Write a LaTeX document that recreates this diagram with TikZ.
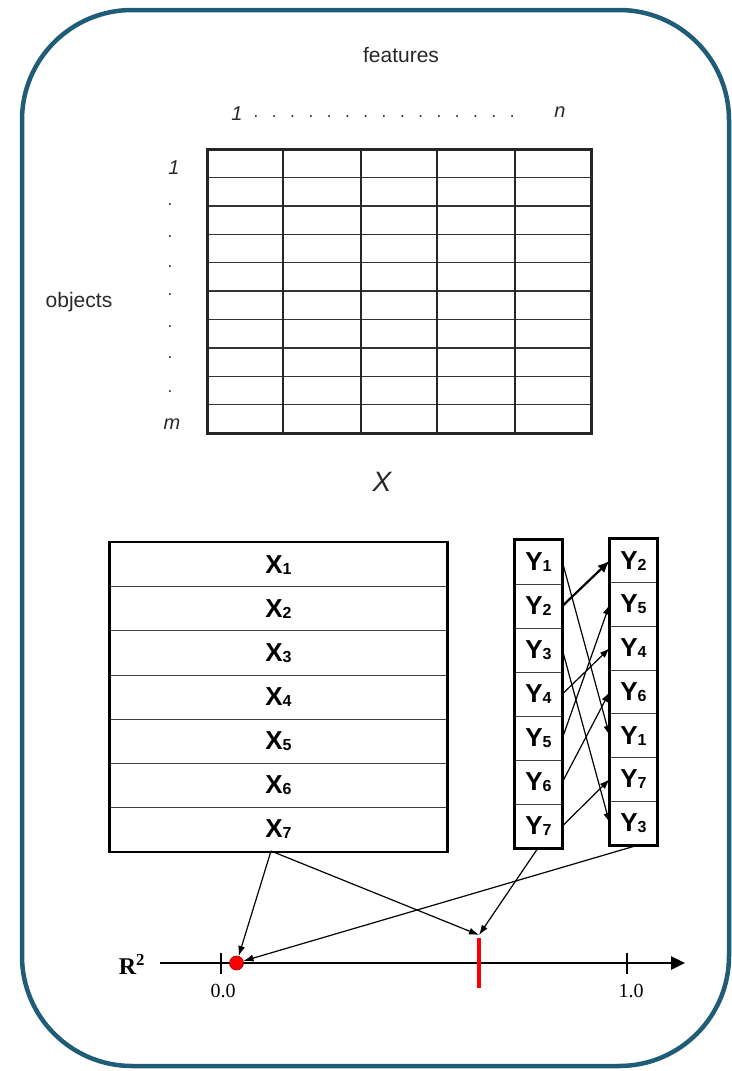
\documentclass[tikz,border=0pt]{standalone}
\usepackage{fontspec}
\setmainfont{Liberation Sans}
\newfontfamily\axisfont{Liberation Serif}
\usetikzlibrary{arrows.meta}
\definecolor{framecol}{RGB}{31,92,120}
\definecolor{graytxt}{RGB}{40,40,40}
\newcommand\mysub[2]{{\fontsize{26}{26}\selectfont\bfseries #1}{\fontsize{16}{16}\selectfont\bfseries\raisebox{-1pt}{#2}}}
\begin{document}
\begin{tikzpicture}[x=1pt,y=-1pt,
  toptxt/.style={text=graytxt, inner sep=0pt, font=\fontsize{21}{21}\selectfont},
  idx/.style={text=graytxt, inner sep=0pt, font=\fontsize{20}{20}\selectfont\itshape},
  dotmark/.style={text=graytxt, inner sep=0pt, font=\fontsize{17}{17}\selectfont},
  xrow/.style={draw=black!75, line width=0.8pt, minimum width=337pt, minimum height=44.14pt, inner sep=0pt},
  yrow/.style={draw=black!75, line width=0.8pt, minimum width=47pt, minimum height=44pt, inner sep=0pt},
  yrowr/.style={draw=black!75, line width=0.8pt, minimum width=47pt, minimum height=43.7pt, inner sep=0pt},
  arr/.style={line width=1.2pt, -{Latex[length=10pt,width=7pt]}},
  tick/.style={line width=1.6pt},
  axlab/.style={inner sep=0pt, font=\axisfont\fontsize{20}{20}\selectfont}
]
\useasboundingbox (0,0) rectangle (731,1071);
% outer frame
\draw[framecol, line width=4.5pt, rounded corners=110pt] (22,10) rectangle (729,1066);

% ---------- feature matrix ----------
\foreach \yy in {177.4,205.8,234.2,262.6,291,319.4,347.8,376.2,404.6}
  \draw[black!80, line width=1.4pt] (207,\yy) -- (591,\yy);
\foreach \xx in {283,361,437,515}
  \draw[black!85, line width=2pt] (\xx,149) -- (\xx,433);
\draw[black!85, line width=3pt] (207,149) rectangle (591,433);

\node[toptxt] (feat) at (401,55) {features};
\node[toptxt] (obj) at (79,302) {objects};
\node[idx] (c1) at (237,114) {1};
\node[idx] (cn) at (560,112) {n};
\foreach \k in {0,...,14}
  \node[dotmark] at ({256+\k*18.3},117) {.};
\node[idx] (r1) at (174,168) {1};
\node[idx] (rm) at (172,424) {m};
\foreach \yy in {205,237,267,295,327,358,392}
  \node[dotmark] at (170,\yy) {.};
\node[text=graytxt, inner sep=0pt, font=\fontsize{28}{28}\selectfont\itshape] (xlabel) at (382,482) {X};

% ---------- X block ----------
\foreach \i in {1,...,7}
  \node[xrow] (x\i) at (278.5,{542.5+44.14*(\i-0.5)}) {\mysub{X}{\i}};
\draw[line width=2.4pt] (x1.north west) rectangle (x7.south east);

% ---------- Y columns ----------
\foreach \i in {1,...,7}
  \node[yrow] (yl\i) at (538.5,{540+44*(\i-0.5)}) {\mysub{Y}{\i}};
\draw[line width=2.4pt] (yl1.north west) rectangle (yl7.south east);
\foreach \i/\k in {1/2,2/5,3/4,4/6,5/1,6/7,7/3}
  \node[yrowr] (yr\k) at (633.5,{539+43.7*(\i-0.5)}) {\mysub{Y}{\k}};
\draw[line width=2.4pt] (yr2.north west) rectangle (yr3.south east);

\foreach \k in {1,3,4,5,6,7}
  \draw[arr] (yl\k.east) -- (yr\k.west);
\draw[line width=2.2pt, -{Latex[length=12pt,width=10pt]}] (yl2.east) -- (yr2.west);

% ---------- R^2 axis ----------
\node[inner sep=0pt, font=\axisfont\bfseries\fontsize{24}{24}\selectfont] (rsq) at (132,964) {R\textsuperscript{2}};
\coordinate (axs) at (160,963);
\coordinate (axe) at (685,963);
\draw[line width=2.5pt, -{Triangle[length=14pt,width=13pt]}] (axs) -- (axe);
\draw[tick] (221,953) -- (221,974);
\draw[tick] (627,953) -- (627,974);
\node[axlab] (l0) at (223,991) {0.0};
\node[axlab] (l1) at (631,991) {1.0};
\draw[red, line width=4.5pt] (479,938) -- (479,988);
\coordinate (rl) at (479,935);
\node[circle, fill=red, draw=red!60!black, line width=0.6pt, inner sep=0pt, minimum size=14pt] (dot) at (236.5,963) {};

\coordinate (xa) at (271,851);
\coordinate (ya) at (538,848);
\coordinate (yb) at (635,846);
\draw[arr] (xa) -- (dot);
\draw[arr] (xa) -- (rl);
\draw[arr] (ya) -- (rl);
\draw[arr] (yb) -- (dot);
\end{tikzpicture}
\end{document}
